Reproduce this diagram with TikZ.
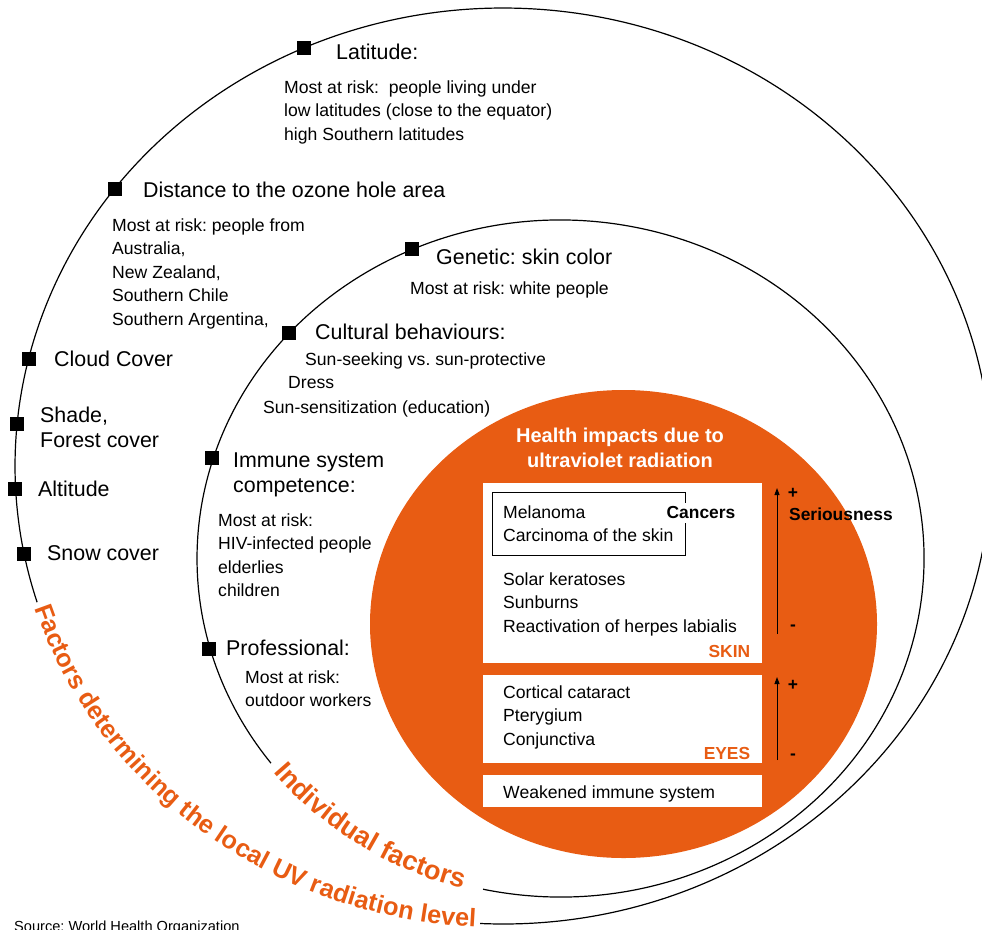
\documentclass[tikz,border=0pt]{standalone}
\usepackage{fontspec}
\setmainfont{Liberation Sans}
\usetikzlibrary{calc,shapes.geometric,decorations.text,arrows.meta}
\definecolor{uvorange}{RGB}{232,92,19}
\frenchspacing

\tikzset{
  marker/.style={fill=black, minimum size=14pt, inner sep=0pt},
  head/.style={anchor=north west, inner sep=0pt, align=left, font=\fontsize{21.4}{25}\selectfont},
  body/.style={anchor=north west, inner sep=0pt, align=left, font=\fontsize{17.6}{23.5}\selectfont},
  panel/.style={fill=white, anchor=north west, inner sep=0pt},
  tag/.style={anchor=east, inner sep=0pt, text=uvorange, font=\bfseries\fontsize{17.4}{20}\selectfont},
  sign/.style={inner sep=0pt, font=\bfseries\fontsize{17.4}{20}\selectfont},
}

\begin{document}
\begin{tikzpicture}[x=1pt,y=-1pt]
\useasboundingbox (0,0) rectangle (982,929);

% outer ring
\coordinate (outer) at (503,466);
\draw[line width=1.2pt] (outer) ++(92.7:488 and 458) arc[start angle=92.7, end angle=-197.3, x radius=488, y radius=458];
\path[decorate, decoration={text along path, text align=center, raise=-4pt,
  text={|\color{uvorange}\bfseries\fontsize{25.3}{26}\selectfont|Factors determining the local UV radiation level}}]
  (outer) ++(165:488 and 458) arc[start angle=165, end angle=90.5, x radius=488, y radius=458];

% inner ring
\coordinate (inner) at (560.5,558.5);
\draw[line width=1.2pt] (inner) ++(102.3:363.5 and 338.5) arc[start angle=102.3, end angle=-217.2, x radius=363.5, y radius=338.5];
\path[decorate, decoration={text along path, text align=center, raise=-4pt,
  text={|\color{uvorange}\bfseries\fontsize{27}{27}\selectfont|Individual factors}}]
  (inner) ++(147:363.5 and 338.5) arc[start angle=147, end angle=100, x radius=363.5, y radius=338.5];

% environment factors
\node[marker] (latm) at (304,48) {};
\node[head] (lat) at ($(latm)+(32,-4)$) {Latitude:};
\node[body] (latrisk) at ($(latm)+(-20,32.5)$) {Most at risk:\ \ people living under\\low latitudes (close to the equator)\\high Southern latitudes};

\node[marker] (ozonem) at (115,189) {};
\node[head] (ozone) at ($(ozonem)+(28,-7)$) {Distance to the ozone hole area};
\node[body] (ozonerisk) at ($(ozonem)+(-3,29.5)$) {Most at risk: people from\\Australia,\\New Zealand,\\Southern Chile\\Southern Argentina,};

\node[marker] (cloudm) at (29,359) {};
\node[head] (cloud) at ($(cloudm)+(25,-8)$) {Cloud Cover};

\node[marker] (shadem) at (17,424) {};
\node[head] (shade) at ($(shadem)+(23,-17)$) {Shade,\\Forest cover};

\node[marker] (altm) at (15,489) {};
\node[head] (alt) at ($(altm)+(23,-8)$) {Altitude};

\node[marker] (snowm) at (24,554) {};
\node[head] (snow) at ($(snowm)+(23,-9)$) {Snow cover};

% individual factors
\node[marker] (genm) at (412,249) {};
\node[head] (gen) at ($(genm)+(24,0)$) {Genetic: skin color};
\node[body] (genrisk) at ($(genm)+(-2,32.5)$) {Most at risk: white people};

\node[marker] (cultm) at (289,333) {};
\node[head] (cult) at ($(cultm)+(26,-9)$) {Cultural behaviours:};
\node[body] (cult1) at ($(cultm)+(16,19.5)$) {Sun-seeking vs. sun-protective};
\node[body] (cult2) at ($(cultm)+(-1,43.5)$) {Dress};
\node[body] (cult3) at ($(cultm)+(-26,67.5)$) {Sun-sensitization (education)};

\node[marker] (immm) at (212,458) {};
\node[head] (imm) at ($(immm)+(21,-5)$) {Immune system\\competence:};
\node[body] (immrisk) at ($(immm)+(6,55.5)$) {Most at risk:\\HIV-infected people\\elderlies\\children};

\node[marker] (profm) at (209,649) {};
\node[head] (prof) at ($(profm)+(17,-9)$) {Professional:};
\node[body] (profrisk) at ($(profm)+(36,21.5)$) {Most at risk:\\outdoor workers};

% health impacts
\node[ellipse, fill=uvorange, minimum width=507, minimum height=468, inner sep=0pt] (impact) at (623.5,624) {};
\node[align=center, text=white, inner sep=0pt, font=\bfseries\fontsize{20}{25}\selectfont] (title) at (620,447.5) {Health impacts due to\\ultraviolet radiation};

\node[panel, minimum width=279, minimum height=180] (skin) at (483,483) {};
\node[panel, minimum width=279, minimum height=88] (eyes) at (483,675) {};
\node[panel, minimum width=279, minimum height=32] (immune) at (483,775) {};

\node[draw, line width=1pt, anchor=north west, minimum width=193, minimum height=63, inner sep=0pt] (cancerbox) at (492,492) {};
\node[fill=white, inner xsep=1pt, inner ysep=4pt, font=\bfseries\fontsize{17.4}{20}\selectfont] (cancers) at (701,513) {Cancers};
\node[body] (mel) at ($(skin.north west)+(20,22.5)$) {Melanoma\\Carcinoma of the skin};
\node[body] (solar) at ($(skin.north west)+(20,89.5)$) {Solar keratoses\\Sunburns\\Reactivation of herpes labialis};
\node[tag] (skintag) at ($(skin.north east)+(-12,168)$) {SKIN};

\node[body] (eyelist) at ($(eyes.north west)+(20,10.5)$) {Cortical cataract\\Pterygium\\Conjunctiva};
\node[tag] (eyetag) at ($(eyes.north east)+(-12,78)$) {EYES};

\node[body, anchor=west] (weak) at ($(immune.west)+(20,3)$) {Weakened immune system};

% seriousness scale
\coordinate (sevlo1) at (777,634);
\coordinate (sevhi1) at (777,488);
\coordinate (sevlo2) at (777,760);
\coordinate (sevhi2) at (777,677);
\draw[-{Triangle[length=7pt,width=5pt]}, line width=1pt] (sevlo1) -- (sevhi1);
\draw[-{Triangle[length=7pt,width=5pt]}, line width=1pt] (sevlo2) -- (sevhi2);
\node[sign] (plus1) at (793,493) {+};
\node[sign, anchor=west] (serious) at (789,514) {Seriousness};
\node[sign] (minus1) at (793,628) {-};
\node[sign] (plus2) at (793,685) {+};
\node[sign] (minus2) at (793,757) {-};

\node[anchor=base west, inner sep=0pt, font=\fontsize{14.6}{16}\selectfont] (source) at (14,931.5) {Source: World Health Organization};
\end{tikzpicture}
\end{document}
